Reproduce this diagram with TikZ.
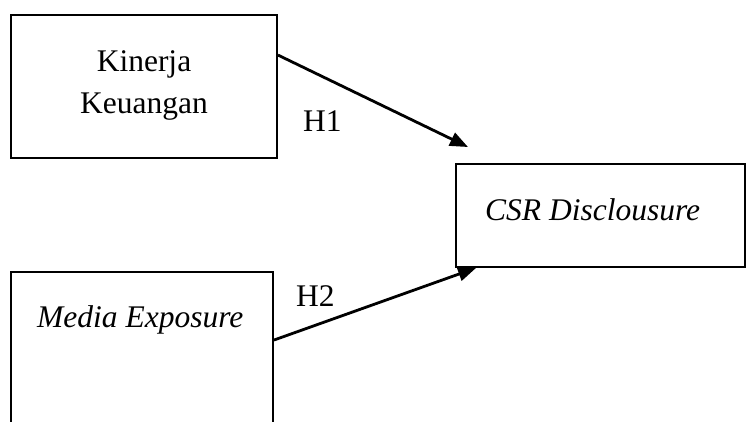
\documentclass[tikz,border=0pt]{standalone}
\usepackage{fontspec}
\setmainfont{Liberation Serif}
\usetikzlibrary{arrows.meta}
\begin{document}
\begin{tikzpicture}[x=1pt,y=-1pt,
  varbox/.style={draw=black,line width=1.9pt,minimum width=#1,inner sep=0pt},
  lbl/.style={anchor=base,inner sep=0pt,font=\fontsize{31.5}{42}\selectfont},
  lblw/.style={anchor=base west,inner sep=0pt,font=\fontsize{31.5}{42}\selectfont},
  conn/.style={line width=2.8pt,-{Triangle[length=18pt,width=14pt]}}]
\useasboundingbox (0,0) rectangle (747,421);
% variable boxes
\node[varbox=266pt,minimum height=143pt] (kk) at (144,86.5) {};
\node[varbox=289pt,minimum height=103pt] (csr) at (600.5,215.5) {};
\node[varbox=262pt,minimum height=190pt] (me) at (142,367) {};
% box texts
\node[lbl] (t1) at (144,71) {Kinerja};
\node[lbl] (t2) at (144,113) {Keuangan};
\node[lblw] (t3) at (485,220) {\itshape CSR Disclousure};
\node[lblw] (t4) at (37,327) {\itshape Media Exposure};
% hypothesis labels
\node[lblw] (h1) at (303,131) {H1};
\node[lblw] (h2) at (296,306) {H2};
% hypothesis paths
\coordinate (h1tip) at (468,147);
\draw[conn] ([yshift=-41pt]kk.north east) -- (h1tip);
\draw[conn] ([yshift=-69pt]me.north east) -- ([xshift=21pt]csr.south west);
\end{tikzpicture}
\end{document}
